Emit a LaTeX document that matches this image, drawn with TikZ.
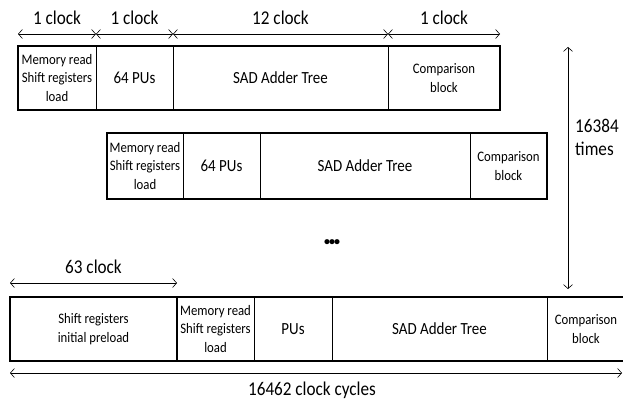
\documentclass[tikz,border=0pt]{standalone}
\usepackage{fontspec}
\setmainfont{Carlito}
\newfontfamily\narrowfont[FakeStretch=0.88]{Carlito}
\usetikzlibrary{positioning,arrows.meta}

\begin{document}
\begin{tikzpicture}[
        x=1pt, y=-1pt,
        cell/.style={draw, line width=0.7pt, inner sep=0pt, outer sep=0pt, align=center,
            font=\narrowfont\fontsize{14.5}{18.5}\selectfont},
        bigcell/.style={cell, font=\narrowfont\fontsize{17}{18.5}\selectfont},
        frame/.style={draw, line width=1.8pt},
        span/.style={{Straight Barb[length=4pt,width=9pt]}-{Straight Barb[length=4pt,width=9pt]}, line width=0.6pt},
        lbl/.style={font=\narrowfont\fontsize{19.5}{23}\selectfont, inner sep=0pt}
    ]
    \clip (0,0) rectangle (623,404);

    % first pass
    \node[cell, minimum width=78, minimum height=64, anchor=north west] (a1) at (18,46) {Memory read\\Shift registers\\load};
    \node[bigcell, minimum width=77, minimum height=64, right=0pt of a1] (a2) {64 PUs};
    \node[bigcell, minimum width=215, minimum height=64, right=0pt of a2] (a3) {SAD Adder Tree};
    \node[cell, minimum width=112, minimum height=64, right=0pt of a3] (a4) {Comparison\\block};
    \draw[frame] (a1.north west) rectangle (a4.south east);

    \draw[span] ([yshift=12pt]a1.north west) -- ([yshift=12pt]a1.north east);
    \draw[span] ([yshift=12pt]a2.north west) -- ([yshift=12pt]a2.north east);
    \draw[span] ([yshift=12pt]a3.north west) -- ([yshift=12pt]a3.north east);
    \draw[span] ([yshift=12pt]a4.north west) -- ([yshift=12pt]a4.north east);
    \node[lbl] (t1) at ([yshift=28pt]a1.north) {1 clock};
    \node[lbl] (t2) at ([yshift=28pt]a2.north) {1 clock};
    \node[lbl] (t3) at ([yshift=28pt]a3.north) {12 clock};
    \node[lbl] (t4) at ([yshift=28pt]a4.north) {1 clock};

    % second pass
    \node[cell, minimum width=76, minimum height=66, anchor=north west] (b1) at (107,133) {Memory read\\Shift registers\\load};
    \node[bigcell, minimum width=77, minimum height=66, right=0pt of b1] (b2) {64 PUs};
    \node[bigcell, minimum width=210, minimum height=66, right=0pt of b2] (b3) {SAD Adder Tree};
    \node[cell, minimum width=77, minimum height=66, right=0pt of b3] (b4) {Comparison\\block};
    \draw[frame] (b1.north west) rectangle (b4.south east);

    \node[font=\fontsize{12}{12}\selectfont\bfseries, inner sep=0pt] (dots) at (332,243) {\textbullet\kern-1pt\textbullet\kern-1pt\textbullet};

    % repetition
    \coordinate (rtop) at (568,47);
    \coordinate (rbot) at (568,289);
    \draw[span] (rtop) -- (rbot);
    \node[lbl, align=left, anchor=west] (rep) at (575,137) {16384\\times};

    % last pass with preload
    \node[cell, minimum width=167, minimum height=64, anchor=north west] (c0) at (10,297) {Shift registers\\initial preload};
    \node[cell, minimum width=77, minimum height=64, right=0pt of c0] (c1) {Memory read\\Shift registers\\load};
    \node[bigcell, minimum width=78, minimum height=64, right=0pt of c1] (c2) {PUs};
    \node[bigcell, minimum width=215, minimum height=64, right=0pt of c2] (c3) {SAD Adder Tree};
    \node[cell, minimum width=78, minimum height=64, right=0pt of c3] (c4) {Comparison\\block};
    \draw[frame] (c0.north west) rectangle (c0.south east);
    \draw[frame] (c1.north west) rectangle (c4.south east);

    \draw[span] ([yshift=14pt]c0.north west) -- ([yshift=14pt]c0.north east);
    \node[lbl] (t0) at ([yshift=30pt]c0.north) {63 clock};

    \coordinate (tend) at (622,373);
    \draw[span] ([yshift=-12pt]c0.south west) -- (tend);
    \node[lbl] (total) at (312,390) {16462 clock cycles};
\end{tikzpicture}
\end{document}
